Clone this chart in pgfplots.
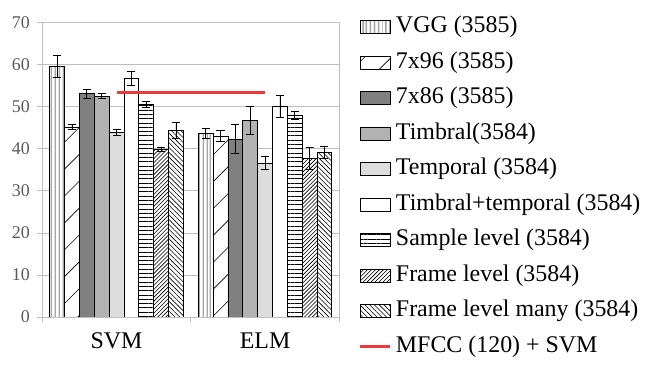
\documentclass[border=0pt]{standalone}
\usepackage{fontspec}
\setmainfont{Liberation Serif}
\usepackage{pgfplots}
\pgfplotsset{compat=1.18}
\usetikzlibrary{patterns.meta}
\definecolor{gridgray}{HTML}{BFBFBF}
\definecolor{ticktext}{HTML}{595959}
\definecolor{dark}{HTML}{808080}
\definecolor{mid}{HTML}{B2B2B2}
\definecolor{light}{HTML}{DDDDDD}
\definecolor{mfcc}{HTML}{F0373A}

% one bar is 0.1 of a category = 14.85bp wide
\pgfplotsset{
  bars/.style={ybar, bar width=14.85bp, bar shift=#1, draw=black, line width=0.8bp,
    error bars/y dir=both, error bars/y explicit,
    error bars/error bar style={line width=0.8bp, black, xshift=#1},
    error bars/error mark options={rotate=90, mark size=4bp, line width=0.8bp, black},
    legend image code/.code={\draw[##1] (0bp,-6.5bp) rectangle (30bp,6.5bp);}},
  lineleg/.style={legend image code/.code={\draw[##1] (0bp,0bp) -- (30bp,0bp);}},
}

\begin{document}
\begin{tikzpicture}
\begin{axis}[
    scale only axis,
    width=297bp, height=294.3bp,
    xmin=-0.5, xmax=1.5, ymin=0, ymax=70,
    ytick={0,10,...,70},
    xtick={0,1}, xticklabels={SVM,ELM},
    minor xtick={-0.5,0.5,1.5},
    major x tick style={draw=none},
    tick align=outside, tick pos=left,
    ymajorgrids,
    grid style={gridgray, line width=0.8bp},
    axis line style={gridgray, line width=0.8bp},
    tick style={gridgray, line width=0.8bp},
    major tick length=5bp, minor tick length=5bp,
    yticklabel style={font=\fontsize{18}{18}\selectfont, text=ticktext, xshift=-4bp},
    xticklabel style={font=\fontsize{24}{24}\selectfont, text=black, yshift=-7bp},
    /pgf/number format/assume math mode=true,
    legend cell align=left,
    legend style={at={(1.0663,1.0203)}, anchor=north west, draw=none, fill=none,
        inner sep=0pt, outer sep=0pt, row sep=14.5bp,
        font=\fontsize{24}{24}\selectfont,
        nodes={inner xsep=0pt, inner ysep=0pt, text height=16bp, text depth=5bp},
        /tikz/every odd column/.append style={column sep=4bp}},
]
\addplot[bars=-59.4bp, fill=white, postaction={pattern={Lines[angle=90,distance=3.9bp,line width=0.6bp]}}]
  coordinates {(0,59.6) +- (0,2.7) (1,43.7) +- (0,1.2)};
\addlegendentry{VGG (3585)}
\addplot[bars=-44.55bp, fill=white, postaction={pattern={Lines[angle=45,distance=19bp,line width=0.6bp]}}]
  coordinates {(0,45.2) +- (0,0.5) (1,43.0) +- (0,1.3)};
\addlegendentry{7x96 (3585)}
\addplot[bars=-29.7bp, fill=dark]
  coordinates {(0,53.1) +- (0,1.0) (1,42.3) +- (0,3.4)};
\addlegendentry{7x86 (3585)}
\addplot[bars=-14.85bp, fill=mid]
  coordinates {(0,52.5) +- (0,0.6) (1,46.8) +- (0,3.3)};
\addlegendentry{Timbral(3584)}
\addplot[bars=0bp, fill=light]
  coordinates {(0,43.9) +- (0,0.8) (1,36.6) +- (0,1.5)};
\addlegendentry{Temporal (3584)}
\addplot[bars=14.85bp, fill=white]
  coordinates {(0,56.8) +- (0,1.6) (1,50.1) +- (0,2.6)};
\addlegendentry{Timbral+temporal (3584)}
\addplot[bars=29.7bp, fill=white, postaction={pattern={Lines[angle=0,distance=4.3bp,line width=0.6bp]}}]
  coordinates {(0,50.6) +- (0,0.7) (1,48.0) +- (0,1.0)};
\addlegendentry{Sample level (3584)}
\addplot[bars=44.55bp, fill=white, postaction={pattern={Lines[angle=45,distance=2.8bp,line width=0.6bp]}}]
  coordinates {(0,39.8) +- (0,0.5) (1,37.7) +- (0,2.6)};
\addlegendentry{Frame level (3584)}
\addplot[bars=59.4bp, fill=white, postaction={pattern={Lines[angle=-45,distance=3.4bp,line width=0.6bp]}}]
  coordinates {(0,44.4) +- (0,2.0) (1,39.2) +- (0,1.4)};
\addlegendentry{Frame level many (3584)}
\addplot[mfcc, line width=3bp, no markers, lineleg]
  coordinates {(0,53.4) (1,53.4)};
\addlegendentry{MFCC (120) + SVM}
\end{axis}
\pgfresetboundingbox
\path (-42.3bp,-51bp) rectangle (607.7bp,317bp);
\end{tikzpicture}
\end{document}
